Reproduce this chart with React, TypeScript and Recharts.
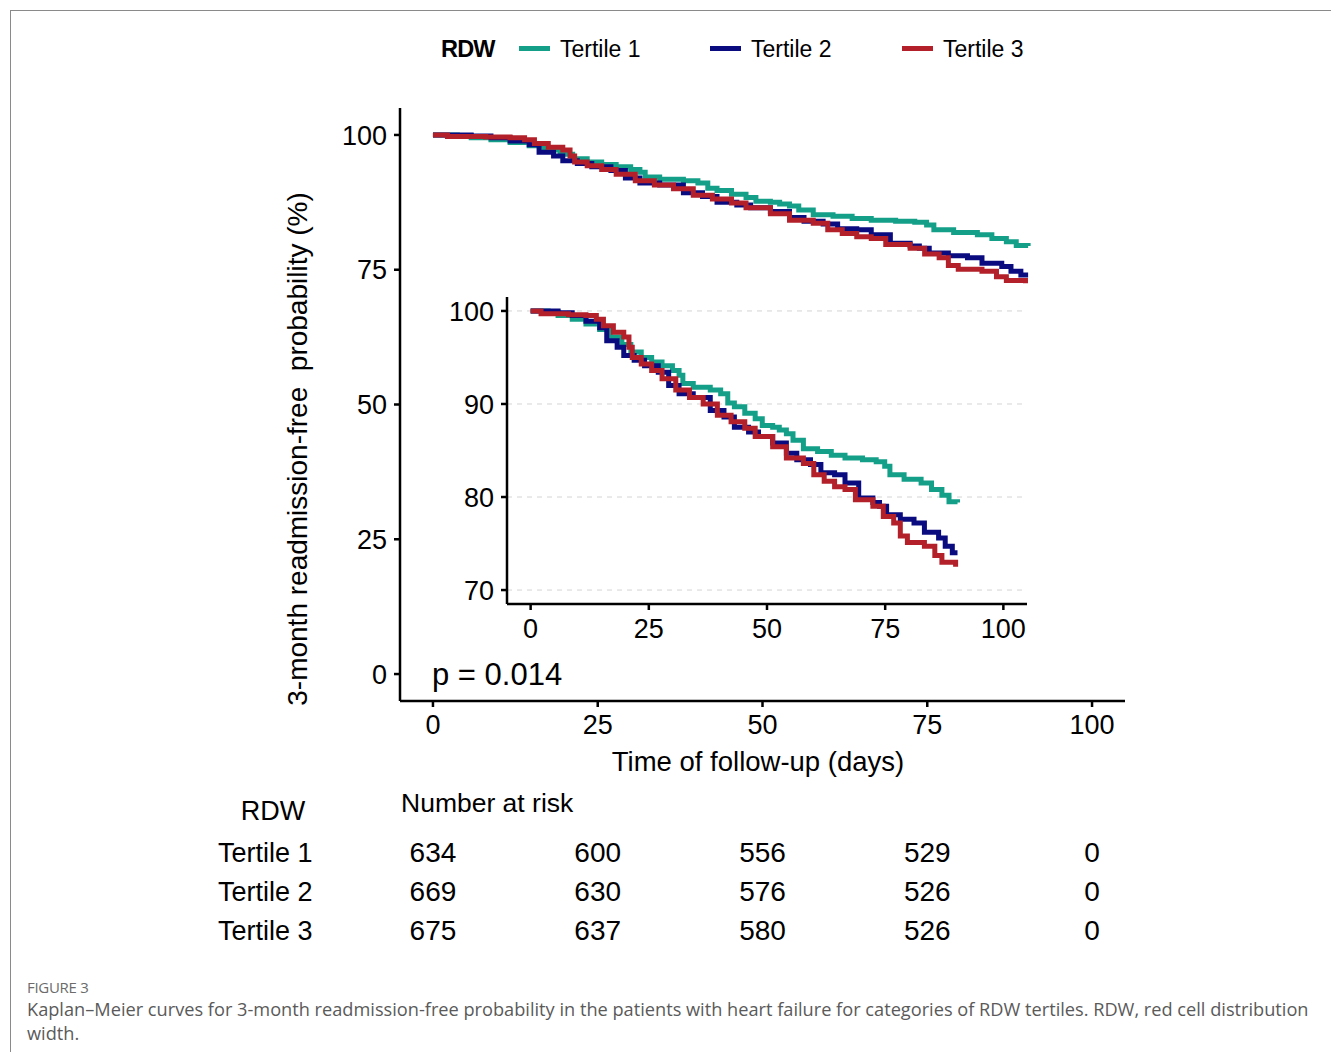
import { CartesianGrid, Line, LineChart, XAxis, YAxis } from 'recharts';

// Kaplan-Meier curves, RDW tertiles, with zoomed inset and risk table.

const FONT = '"Liberation Sans", Arial, Helvetica, sans-serif';

const seriesNames = ['Tertile 1', 'Tertile 2', 'Tertile 3'];
const seriesColors = ['#14A088', '#0B0B80', '#B3202A'];

const t1Time = [0, 3.7, 5.8, 8.8, 11.7, 14.6, 16.8, 19.3, 21.2, 23.4, 25.6, 27.8, 30, 31.4, 32.2, 34.4, 38, 40.2, 41.7, 43.1, 45.3, 47.5, 49, 51.2, 52.6, 54.1, 55.5, 57.7, 60.7, 63.6, 66.5, 70.2, 73.1, 74.9, 76, 79, 82.6, 84.8, 87, 88.5, 90.3];
const t1Surv = [100, 99.9, 99.5, 99.1, 98.6, 98.0, 97.2, 96.4, 95.6, 95.0, 94.5, 94.1, 93.6, 93.1, 92.2, 91.8, 91.5, 91.1, 90.1, 89.7, 89.0, 88.4, 87.7, 87.5, 87.2, 86.8, 86.1, 85.2, 84.9, 84.5, 84.2, 84.0, 83.8, 83.3, 82.4, 81.9, 81.5, 80.8, 80.2, 79.5, 79.4];

const t2Time = [0, 5.8, 8.8, 11.7, 14.6, 16.1, 18.3, 19.7, 21.9, 24.1, 27, 29.2, 31.4, 34.4, 38, 40.9, 43.1, 46.1, 48.2, 51.2, 54.1, 56.3, 59.2, 61.4, 64.3, 66.5, 69.4, 72.4, 73.8, 75.3, 78.2, 81.1, 83.3, 86.3, 87.7, 89.2, 90.3];
const t2Surv = [100, 99.8, 99.5, 98.9, 98.2, 96.8, 96.1, 95.2, 94.7, 94.1, 93.4, 92.0, 91.1, 90.7, 89.3, 88.6, 87.5, 87.0, 86.5, 85.8, 84.7, 84.0, 83.5, 82.6, 82.4, 81.5, 79.9, 79.4, 79.0, 78.1, 77.6, 77.2, 76.2, 75.6, 74.7, 74.0, 74.0];

const t3Time = [0, 2.2, 8, 11.7, 13.9, 15.4, 17.5, 19.7, 20.8, 21.5, 23.4, 25.6, 27.8, 30.7, 33.6, 36.5, 39.5, 42.4, 45.3, 47.5, 51.2, 54.1, 57.7, 59.9, 62.1, 64.3, 66.5, 68.7, 72.4, 74.6, 76.8, 78.2, 79.7, 83.3, 85.5, 87, 89.9];
const t3Surv = [100, 99.7, 99.6, 99.5, 99.1, 98.4, 97.7, 97.2, 96.1, 95.0, 94.3, 93.6, 92.7, 91.5, 90.7, 90.0, 88.8, 88.1, 87.4, 86.5, 85.4, 84.2, 83.6, 82.4, 81.7, 81.1, 80.8, 79.7, 79.0, 77.9, 77.2, 75.8, 75.1, 74.7, 73.7, 73.0, 72.5];

const mainTicks = [0, 25, 50, 75, 100];
const insetYTicks = [70, 80, 90, 100];

const riskTimes = [0, 25, 50, 75, 100];
const riskT1 = [634, 600, 556, 529, 0];
const riskT2 = [669, 630, 576, 526, 0];
const riskT3 = [675, 637, 580, 526, 0];

const zip = (ts: number[], ss: number[]) => ts.map((t, i) => ({ t, s: ss[i] }));
const curves = [zip(t1Time, t1Surv), zip(t2Time, t2Surv), zip(t3Time, t3Surv)];
const riskRows = [riskT1, riskT2, riskT3];

// main panel, in page pixels
const PL = 400, PR = 1125, PT = 108, PB = 701;
const xPix = (t: number) => PL + ((t + 5) / 110) * (PR - PL);

const tickFont = { fontSize: 27, fill: '#000', fontFamily: FONT };
const axisLine = { stroke: '#000', strokeWidth: 2.5 };

function Curves() {
  return curves.map((d, i) => (
    <Line
      key={seriesNames[i]}
      data={d}
      dataKey="s"
      type="stepAfter"
      stroke={seriesColors[i]}
      strokeWidth={5}
      dot={false}
      isAnimationActive={false}
    />
  ));
}

export default function App() {
  const W = 1200, H = 800, yW = 80, xH = 60;
  const iL = 420, iT = 280, iW = 640, iH = 380, iyW = 60, ixH = 40;
  return (
    <div style={{ position: 'absolute', left: 0, top: 0, width: 1331, height: 1052, background: '#fff', fontFamily: FONT, color: '#000' }}>
      {/* frame */}
      <div style={{ position: 'absolute', left: 10, top: 10, right: 0, height: 0, borderTop: '1px solid #8a8a8a' }} />
      <div style={{ position: 'absolute', left: 10, top: 10, bottom: 0, width: 0, borderLeft: '1px solid #8a8a8a' }} />

      {/* legend */}
      <div style={{ position: 'absolute', left: 441, top: 34, fontSize: 23.5, fontWeight: 700, lineHeight: '30px', letterSpacing: -0.8 }}>RDW</div>
      {[519, 710, 902].map((x, i) => (
        <div key={i}>
          <div style={{ position: 'absolute', left: x, top: 46, width: 31, height: 5, background: seriesColors[i] }} />
          <div style={{ position: 'absolute', left: x + 41, top: 34, fontSize: 23, lineHeight: '30px' }}>{seriesNames[i]}</div>
        </div>
      ))}

      {/* main chart */}
      <div style={{ position: 'absolute', left: 0, top: 0 }}>
        <LineChart width={W} height={H} margin={{ left: PL - yW, top: PT, right: W - PR, bottom: H - PB - xH }}>
          <XAxis type="number" dataKey="t" domain={[-5, 105]} ticks={mainTicks} allowDataOverflow
            height={xH} tick={tickFont} tickSize={6} tickMargin={8} axisLine={axisLine} tickLine={axisLine} />
          <YAxis type="number" dataKey="s" domain={[-5, 105]} ticks={mainTicks} allowDataOverflow
            width={yW} tick={tickFont} tickSize={6} tickMargin={7} axisLine={axisLine} tickLine={axisLine} />
          {Curves()}
        </LineChart>
      </div>

      {/* y title */}
      <div style={{ position: 'absolute', left: 298, top: 449, transform: 'translate(-50%, -50%) rotate(-90deg)', whiteSpace: 'pre', fontSize: 28 }}>
        {'3-month readmission-free  probability (%)'}
      </div>
      {/* x title */}
      <div style={{ position: 'absolute', left: 758, top: 762, transform: 'translate(-50%, -50%)', whiteSpace: 'nowrap', fontSize: 27.5 }}>
        Time of follow-up (days)
      </div>
      {/* p value */}
      <div style={{ position: 'absolute', left: 432, top: 675, transform: 'translateY(-50%)', whiteSpace: 'nowrap', fontSize: 31 }}>
        p = 0.014
      </div>

      {/* inset */}
      <div style={{ position: 'absolute', left: iL, top: iT }}>
        <LineChart width={iW} height={iH} margin={{ left: 507 - iL - iyW, top: 297 - iT, right: iL + iW - 1027, bottom: iT + iH - 604 - ixH }}>
          <CartesianGrid vertical={false} horizontalValues={insetYTicks} stroke="#d4d4d4" strokeDasharray="5 5" />
          <XAxis type="number" dataKey="t" domain={[-5, 105]} ticks={mainTicks} allowDataOverflow
            height={ixH} tick={tickFont} tickSize={6} tickMargin={9} axisLine={axisLine} tickLine={axisLine} />
          <YAxis type="number" dataKey="s" domain={[68.5, 101.5]} ticks={insetYTicks} allowDataOverflow
            width={iyW} tick={tickFont} tickSize={6} tickMargin={7} axisLine={axisLine} tickLine={axisLine} />
          {Curves()}
        </LineChart>
      </div>

      {/* risk table */}
      <div style={{ position: 'absolute', left: 273, top: 811, transform: 'translate(-50%, -50%)', fontSize: 27 }}>RDW</div>
      <div style={{ position: 'absolute', left: 401, top: 803, transform: 'translateY(-50%)', fontSize: 26.5, whiteSpace: 'nowrap' }}>Number at risk</div>
      {riskRows.map((row, r) => (
        <div key={r}>
          <div style={{ position: 'absolute', left: 218, top: 853 + r * 39, transform: 'translateY(-50%)', fontSize: 27, whiteSpace: 'nowrap' }}>
            {seriesNames[r]}
          </div>
          {row.map((n, k) => (
            <div key={k} style={{ position: 'absolute', left: xPix(riskTimes[k]), top: 853 + r * 39, transform: 'translate(-50%, -50%)', fontSize: 28 }}>
              {n}
            </div>
          ))}
        </div>
      ))}

      {/* caption */}
      <div style={{ position: 'absolute', left: 27, top: 977, fontFamily: '"Open Sans", sans-serif', fontSize: 15, color: '#6b6b6b', letterSpacing: -0.3 }}>FIGURE 3</div>
      <div style={{ position: 'absolute', left: 27, top: 997, width: 1290, fontFamily: '"Open Sans", sans-serif', fontSize: 18.2, lineHeight: '24px', color: '#5a5a5a' }}>
        Kaplan–Meier curves for 3-month readmission-free probability in the patients with heart failure for categories of RDW tertiles. RDW, red cell distribution width.
      </div>
    </div>
  );
}
